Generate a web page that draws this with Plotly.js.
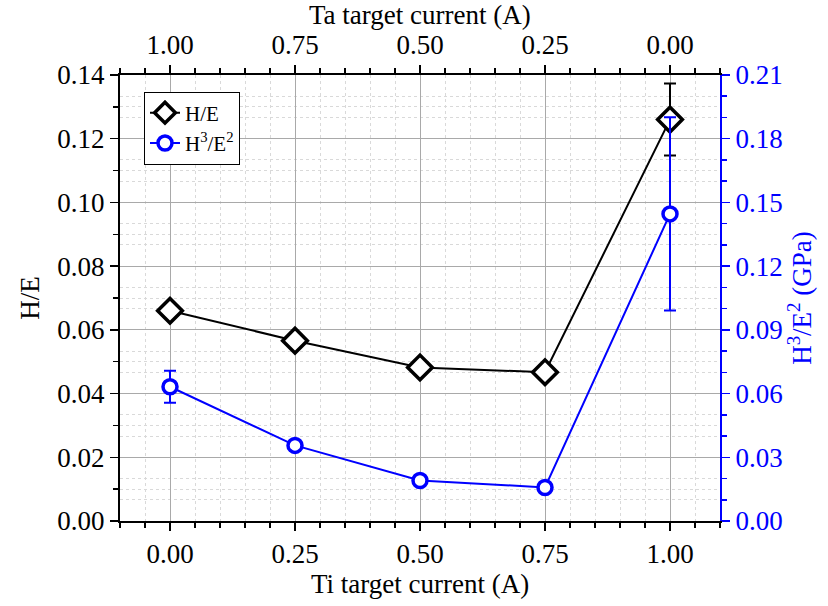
<!DOCTYPE html>
<html>
<head>
<meta charset="utf-8">
<script src="https://cdn.plot.ly/plotly-3.0.1.min.js"></script>
<style>
  html, body { margin: 0; padding: 0; background: #fff; }
  #chart { width: 828px; height: 606px; }
</style>
</head>
<body>
<div id="chart"></div>
<script>
// Ti target current (bottom axis) and matching Ta target current (top axis)
const tiCurrent = [0.00, 0.25, 0.50, 0.75, 1.00];
const taCurrent = [1.00, 0.75, 0.50, 0.25, 0.00];

// H/E ratio and its error
const hOverE = [0.0660, 0.0566, 0.0482, 0.0467, 0.1260];
const hOverEErr = [0.0015, 0.0015, 0.0012, 0.0012, 0.0113];

// H^3/E^2 (GPa) and its error
const h3OverE2 = [0.0632, 0.0356, 0.0191, 0.0158, 0.1446];
const h3OverE2Err = [0.0075, 0.0025, 0.0015, 0.0012, 0.0455];

const FONT = 'Liberation Serif';
const BLUE = '#0000ff';

const traces = [
  {
    x: tiCurrent, y: hOverE, name: 'H/E', type: 'scatter', mode: 'lines+markers',
    xaxis: 'x', yaxis: 'y',
    line: { color: '#000', width: 2 },
    marker: { symbol: 'diamond', size: 19, color: '#fff', line: { color: '#000', width: 3.5 } },
    error_y: { type: 'data', array: hOverEErr, visible: true, color: '#000', thickness: 2, width: 6 }
  },
  {
    x: tiCurrent, y: h3OverE2, name: 'H<sup>3</sup>/E<sup>2</sup>', type: 'scatter', mode: 'lines+markers',
    xaxis: 'x', yaxis: 'y2',
    line: { color: BLUE, width: 2 },
    marker: { symbol: 'circle', size: 14, color: '#fff', line: { color: BLUE, width: 3.5 } },
    error_y: { type: 'data', array: h3OverE2Err, visible: true, color: BLUE, thickness: 2, width: 6 }
  },
  {
    // carries the Ta current scale on the top axis
    x: taCurrent, y: hOverE, xaxis: 'x2', yaxis: 'y', type: 'scatter', mode: 'markers',
    marker: { opacity: 0 }, showlegend: false, hoverinfo: 'skip'
  }
];

const gridMajor = '#a9a9a9';
const gridMinor = '#d9d9d9';
const minorDash = '3px,3px';

const layout = {
  width: 828, height: 606,
  margin: { l: 120, r: 108, t: 75, b: 85 },
  paper_bgcolor: '#fff', plot_bgcolor: '#fff',
  font: { family: FONT, size: 27, color: '#000' },
  showlegend: true,
  legend: {
    x: 0.04, y: 0.963, xanchor: 'left', yanchor: 'top',
    bgcolor: '#fff', bordercolor: '#000', borderwidth: 1,
    font: { family: FONT, size: 21 }, tracegroupgap: 0
  },
  xaxis: {
    range: [-0.1, 1.1], dtick: 0.25, tick0: 0, tickformat: '.2f',
    ticks: 'outside', ticklen: 8, tickwidth: 1.5, tickcolor: '#000',
    showline: true, linecolor: '#000', linewidth: 2,
    showgrid: true, gridcolor: gridMajor, gridwidth: 1, zeroline: false,
    minor: { dtick: 0.05, tick0: 0, ticks: 'outside', ticklen: 5, tickcolor: '#000',
             showgrid: true, gridcolor: gridMinor, griddash: minorDash, gridwidth: 1 },
    tickfont: { family: FONT, size: 27 }
  },
  xaxis2: {
    overlaying: 'x', side: 'top', anchor: 'y',
    range: [1.1, -0.1], dtick: 0.25, tick0: 0, tickformat: '.2f',
    ticks: 'outside', ticklen: 8, tickwidth: 1.5, tickcolor: '#000',
    showline: true, linecolor: '#000', linewidth: 2,
    showgrid: false, zeroline: false,
    minor: { dtick: 0.05, tick0: 0, ticks: 'outside', ticklen: 5, tickcolor: '#000', showgrid: false },
    tickfont: { family: FONT, size: 27 }
  },
  yaxis: {
    range: [0, 0.14], dtick: 0.02, tick0: 0, tickformat: '.2f',
    ticks: 'outside', ticklen: 8, tickwidth: 1.5, tickcolor: '#000',
    showline: true, linecolor: '#000', linewidth: 2,
    showgrid: true, gridcolor: gridMajor, gridwidth: 1, zeroline: false,
    minor: { dtick: 0.01, tick0: 0, ticks: 'outside', ticklen: 5, tickcolor: '#000',
             showgrid: true, gridcolor: gridMinor, griddash: minorDash, gridwidth: 1 },
    tickfont: { family: FONT, size: 27 },
    title: { text: 'H/E', font: { family: FONT, size: 27 }, standoff: 10 }
  },
  yaxis2: {
    overlaying: 'y', side: 'right', anchor: 'x',
    range: [0, 0.21], dtick: 0.03, tick0: 0, tickformat: '.2f',
    ticks: 'outside', ticklen: 8, tickwidth: 1.5, tickcolor: BLUE,
    showline: true, linecolor: BLUE, linewidth: 2,
    showgrid: false, zeroline: false,
    minor: { dtick: 0.01, tick0: 0, ticks: 'outside', ticklen: 5, tickcolor: BLUE,
             showgrid: true, gridcolor: gridMinor, griddash: minorDash, gridwidth: 1 },
    tickfont: { family: FONT, size: 27, color: BLUE },
    title: { text: 'H<sup>3</sup>/E<sup>2</sup> (GPa)', font: { family: FONT, size: 27, color: BLUE }, standoff: 8 }
  },
  // horizontal axis titles, placed as paper-anchored labels
  annotations: [
    { text: 'Ti target current (A)', xref: 'paper', yref: 'paper', x: 0.5, y: -0.141,
      xanchor: 'center', yanchor: 'middle', showarrow: false, font: { family: FONT, size: 27 } },
    { text: 'Ta target current (A)', xref: 'paper', yref: 'paper', x: 0.5, y: 1.134,
      xanchor: 'center', yanchor: 'middle', showarrow: false, font: { family: FONT, size: 27 } }
  ]
};

Plotly.newPlot('chart', traces, layout, { displayModeBar: false, staticPlot: true });
</script>
</body>
</html>
